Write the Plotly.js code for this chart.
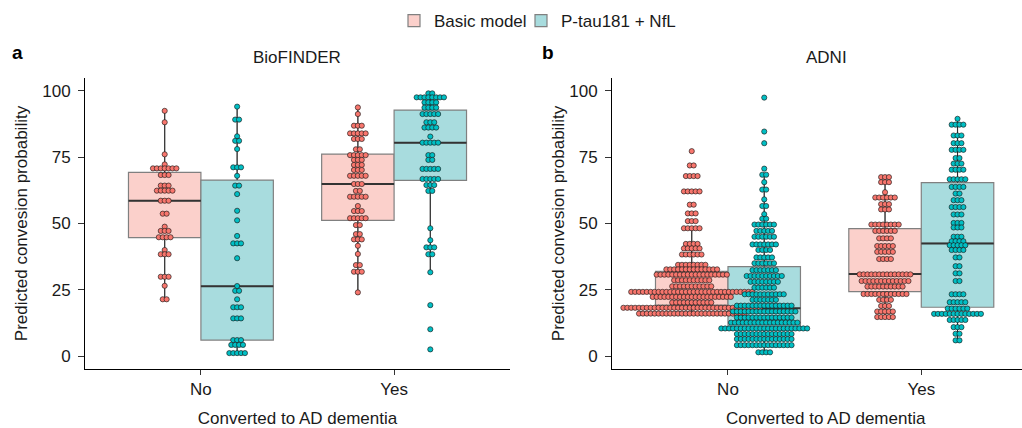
<!DOCTYPE html>
<html><head><meta charset="utf-8">
<script src="https://cdn.plot.ly/plotly-3.0.1.min.js"></script>
<style>html,body{margin:0;padding:0;background:#fff}</style>
</head><body><div id="chart" style="width:1022px;height:428px"></div>
<script>
const categories = ['No', 'Yes'];
const seriesNames = ['Basic model', 'P-tau181 + NfL'];
const panelTitles = ['BioFINDER', 'ADNI'];

// ---- BioFINDER: dot values (binned) and number of dots per bin ----
const bioNoBasicVals = [92.5, 88.2, 76.1, 72.3, 70.8, 68.3, 64.3, 62.4, 58.6, 53.7, 48.8, 47.2, 44.8, 40.0, 38.4, 29.9, 26.5, 21.4];
const bioNoBasicCnts = [1, 1, 1, 1, 7, 3, 3, 5, 3, 2, 1, 3, 4, 1, 3, 3, 1, 2];
const bioNoPtauVals = [94.1, 89.2, 82.9, 81.2, 78.1, 71.2, 68.0, 64.3, 61.1, 54.8, 51.2, 45.3, 42.5, 36.9, 26.4, 24.6, 21.4, 18.4, 14.2, 6.0, 4.2, 1.1];
const bioNoPtauCnts = [1, 2, 1, 2, 1, 3, 1, 2, 1, 1, 1, 1, 3, 1, 1, 2, 1, 3, 3, 3, 4, 5];
const bioYesBasicVals = [93.8, 91.3, 86.9, 84.0, 81.9, 78.0, 75.8, 74.0, 72.1, 70.2, 68.0, 64.9, 62.3, 60.1, 56.6, 54.7, 52.0, 49.4, 46.0, 44.0, 41.6, 38.5, 34.3, 31.8, 24.0];
const bioYesBasicCnts = [1, 1, 3, 5, 3, 2, 5, 3, 3, 3, 5, 3, 2, 5, 1, 3, 5, 2, 2, 3, 1, 1, 2, 3, 1];
const bioYesPtauVals = [99.1, 97.6, 95.7, 93.7, 91.3, 88.2, 86.2, 82.8, 80.5, 75.8, 74.0, 70.6, 66.8, 64.5, 62.3, 48.2, 43.7, 41.0, 38.4, 31.6, 19.2, 10.1, 2.5];
const bioYesPtauCnts = [2, 8, 4, 4, 5, 3, 4, 1, 5, 2, 2, 5, 5, 3, 2, 1, 1, 3, 2, 1, 1, 1, 1];

// ---- ADNI ----
const adniNoBasicVals = [77.3, 71.9, 67.9, 62.1, 57.1, 53.8, 50.9, 48.2, 42.3, 40.6, 38.3, 34.4, 32.7, 30.7, 28.6, 26.3, 24.2, 22.3, 20.2, 18.2, 16.0];
const adniNoBasicCnts = [1, 2, 4, 5, 2, 3, 3, 5, 4, 5, 6, 8, 14, 19, 10, 11, 32, 21, 11, 36, 28];
const adniNoPtauVals = [97.5, 84.7, 80.3, 70.7, 68.4, 65.6, 62.8, 59.1, 56.6, 53.5, 51.8, 49.6, 47.2, 45.0, 42.1, 40.0, 37.2, 35.0, 32.4, 30.2, 28.0, 25.8, 23.3, 21.2, 19.0, 16.8, 14.5, 12.6, 10.4, 8.3, 6.4, 4.1, 1.4];
const adniNoPtauCnts = [1, 1, 1, 1, 2, 1, 2, 1, 2, 1, 2, 6, 5, 6, 7, 4, 5, 6, 7, 10, 8, 6, 11, 7, 15, 17, 15, 18, 23, 15, 15, 15, 4];
const adniYesBasicVals = [67.5, 65.6, 61.8, 59.8, 57.3, 55.3, 49.6, 47.2, 44.4, 41.5, 39.3, 36.6, 30.8, 28.3, 26.2, 23.4, 21.2, 18.9, 16.8, 14.7];
const adniYesBasicCnts = [3, 3, 1, 6, 3, 3, 8, 6, 4, 5, 5, 4, 14, 13, 10, 12, 4, 3, 5, 5];
const adniYesPtauVals = [89.5, 87.3, 83.2, 80.3, 77.8, 74.7, 72.6, 70.3, 66.7, 63.8, 61.3, 58.8, 56.2, 53.4, 50.2, 48.5, 45.0, 43.3, 41.8, 40.0, 37.2, 33.9, 31.2, 28.3, 23.3, 20.3, 17.9, 15.9, 13.6, 10.9, 8.4, 5.9];
const adniYesPtauCnts = [1, 4, 3, 3, 4, 2, 3, 4, 5, 4, 2, 3, 4, 3, 3, 3, 3, 4, 5, 4, 2, 2, 2, 2, 4, 5, 6, 13, 5, 3, 2, 2];

// ---- Box statistics [lower whisker, Q1, median, Q3, upper whisker] ----
const bioNoBasicBox  = [21.4, 44.7, 58.6, 69.3, 92.5];
const bioNoPtauBox   = [1.1, 6.0, 26.3, 66.4, 94.1];
const bioYesBasicBox = [24.0, 51.2, 64.9, 76.2, 93.8];
const bioYesPtauBox  = [31.6, 66.3, 80.5, 92.8, 99.1];
const adniNoBasicBox  = [16.0, 19.2, 24.2, 31.9, 48.2];
const adniNoPtauBox   = [1.4, 11.0, 18.0, 33.7, 68.4];
const adniYesBasicBox = [14.7, 24.3, 30.9, 48.1, 67.5];
const adniYesPtauBox  = [5.9, 18.4, 42.5, 65.4, 89.5];

const W = 1022, H = 428;
const FONT = 'Liberation Sans, Arial, sans-serif';
const dotColors = ['#F8766D', '#00BFC4'];
const boxFills = ['#FBD0CB', '#A8DCDE'];
const boxW = 0.375, dodge = 0.1875, dotStep = 0.0202;

const groups = [
  {ax: 1, cat: 0, s: 0, vals: bioNoBasicVals, cnts: bioNoBasicCnts, box: bioNoBasicBox},
  {ax: 1, cat: 0, s: 1, vals: bioNoPtauVals, cnts: bioNoPtauCnts, box: bioNoPtauBox},
  {ax: 1, cat: 1, s: 0, vals: bioYesBasicVals, cnts: bioYesBasicCnts, box: bioYesBasicBox},
  {ax: 1, cat: 1, s: 1, vals: bioYesPtauVals, cnts: bioYesPtauCnts, box: bioYesPtauBox},
  {ax: 2, cat: 0, s: 0, vals: adniNoBasicVals, cnts: adniNoBasicCnts, box: adniNoBasicBox},
  {ax: 2, cat: 0, s: 1, vals: adniNoPtauVals, cnts: adniNoPtauCnts, box: adniNoPtauBox},
  {ax: 2, cat: 1, s: 0, vals: adniYesBasicVals, cnts: adniYesBasicCnts, box: adniYesBasicBox},
  {ax: 2, cat: 1, s: 1, vals: adniYesPtauVals, cnts: adniYesPtauCnts, box: adniYesPtauBox}
];

const boxTraces = [], lineTraces = [], dotTraces = [];
const legendShown = {};
groups.forEach(g => {
  const pos = (g.cat + 1) + (g.s === 0 ? -dodge : dodge);
  const xa = g.ax === 1 ? 'x' : 'x2', ya = g.ax === 1 ? 'y' : 'y2';
  const b = g.box;
  boxTraces.push({
    type: 'box', x: [pos], lowerfence: [b[0]], q1: [b[1]], median: [b[2]], q3: [b[3]], upperfence: [b[4]],
    width: boxW, whiskerwidth: 0, boxpoints: false,
    fillcolor: boxFills[g.s], line: {color: '#808080', width: 1.2},
    name: seriesNames[g.s], legendgroup: 's' + g.s, showlegend: !legendShown[g.s],
    legend: g.s === 0 ? 'legend' : 'legend2',
    xaxis: xa, yaxis: ya, hoverinfo: 'skip'
  });
  legendShown[g.s] = true;
  // dark whiskers
  lineTraces.push({
    type: 'scatter', mode: 'lines', x: [pos, pos, null, pos, pos], y: [b[3], b[4], null, b[1], b[0]],
    line: {color: '#2b2b2b', width: 1}, showlegend: false, hoverinfo: 'skip', xaxis: xa, yaxis: ya
  });
  // dark median
  lineTraces.push({
    type: 'scatter', mode: 'lines', x: [pos - boxW / 2, pos + boxW / 2], y: [b[2], b[2]],
    line: {color: '#333333', width: 2}, showlegend: false, hoverinfo: 'skip', xaxis: xa, yaxis: ya
  });
  // centred dot stacks
  const xs = [], ys = [];
  g.vals.forEach((v, i) => {
    const n = g.cnts[i];
    for (let j = 0; j < n; j++) { xs.push(pos + (j - (n - 1) / 2) * dotStep); ys.push(v); }
  });
  dotTraces.push({
    type: 'scatter', mode: 'markers', x: xs, y: ys,
    marker: {size: 5.2, color: dotColors[g.s], line: {color: '#1a1a1a', width: 0.65}},
    showlegend: false, hoverinfo: 'skip', cliponaxis: false, xaxis: xa, yaxis: ya
  });
});

const tickFont = {family: FONT, size: 17, color: '#1a1a1a'};
function xAxis(dom, rng, anchor, withTitle) {
  const a = {
    domain: dom, range: rng, anchor: anchor, tickmode: 'array', tickvals: [1, 2], ticktext: categories,
    showline: true, linecolor: '#000', linewidth: 1, ticks: 'outside', ticklen: 5, tickcolor: '#333', tickwidth: 1,
    showgrid: false, zeroline: false, tickfont: tickFont, fixedrange: true
  };
  if (withTitle) a.title = {text: 'Converted to AD dementia', font: {family: FONT, size: 17, color: '#1a1a1a'}, standoff: 14};
  return a;
}
function yAxis(anchor, standoff) {
  return {
    domain: [1 - 369 / H, 1 - 78 / H], range: [-4.9, 104.9], anchor: anchor,
    tickmode: 'array', tickvals: [0, 25, 50, 75, 100],
    showline: true, linecolor: '#000', linewidth: 1, ticks: 'outside', ticklen: 6, tickcolor: '#333', tickwidth: 1,
    ticklabelstandoff: 4,
    showgrid: false, zeroline: false, tickfont: tickFont, fixedrange: true,
    title: {text: 'Predicted convesion probability', font: {family: FONT, size: 17, color: '#1a1a1a'}, standoff: standoff}
  };
}

const ann = (text, px, py, opts) => Object.assign({
  text: text, xref: 'paper', yref: 'paper', x: px / W, y: 1 - py / H, showarrow: false,
  xanchor: 'center', yanchor: 'middle', font: {family: FONT, size: 17, color: '#1a1a1a'}
}, opts || {});

const legendBase = {orientation: 'h', xanchor: 'left', y: 1 - 21 / H, yanchor: 'middle',
  font: {family: FONT, size: 17, color: '#1a1a1a'}, bgcolor: 'rgba(0,0,0,0)', itemwidth: 30};

const layout = {
  width: W, height: H, margin: {l: 0, r: 0, t: 0, b: 0, pad: 0},
  paper_bgcolor: '#fff', plot_bgcolor: 'rgba(0,0,0,0)',
  font: {family: FONT, size: 17, color: '#1a1a1a'},
  showlegend: true, boxmode: 'overlay',
  legend: Object.assign({x: 394 / W}, legendBase),
  legend2: Object.assign({x: 521 / W}, legendBase),
  xaxis: xAxis([85 / W, 510 / W], [0.4, 2.6], 'y', true),
  yaxis: yAxis('x', 10),
  xaxis2: xAxis([612 / W, 1], [0.4, 2.521], 'y2', false),
  yaxis2: yAxis('x2', 0),
  annotations: [
    ann(panelTitles[0], 297, 58),
    ann(panelTitles[1], 826, 58),
    ann('<b>a</b>', 17, 52, {font: {family: FONT, size: 19, color: '#000'}}),
    ann('<b>b</b>', 548, 52, {font: {family: FONT, size: 19, color: '#000'}}),
    ann('Converted to AD dementia', 826, 418)
  ]
};

Plotly.newPlot('chart', boxTraces.concat(lineTraces, dotTraces), layout, {staticPlot: true, displayModeBar: false});
</script></body></html>
